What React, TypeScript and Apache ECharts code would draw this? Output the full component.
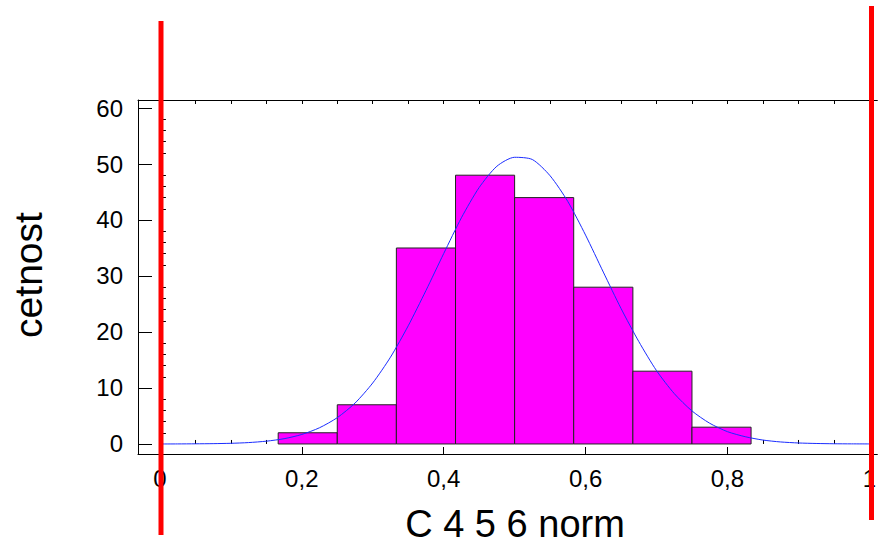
import React, { useEffect, useRef } from "react";
import * as echarts from "echarts";

const binStart = [0.1667, 0.25, 0.3333, 0.4167, 0.5, 0.5833, 0.6667, 0.75];
const binEnd = [0.25, 0.3333, 0.4167, 0.5, 0.5833, 0.6667, 0.75, 0.8333];
const counts = [2, 7, 35, 48, 44, 28, 13, 3];

const curveX = [0, 0.025, 0.05, 0.075, 0.1, 0.125, 0.15, 0.175, 0.2, 0.225, 0.25, 0.275, 0.3, 0.325, 0.35, 0.375, 0.4, 0.425, 0.45, 0.475, 0.5, 0.525, 0.55, 0.575, 0.6, 0.625, 0.65, 0.675, 0.7, 0.725, 0.75, 0.775, 0.8, 0.825, 0.85, 0.875, 0.9, 0.925, 0.95, 0.975, 1];
const curveY = [0, 0.01, 0.03, 0.06, 0.12, 0.25, 0.5, 0.94, 1.7, 2.9, 4.7, 7.3, 10.9, 15.5, 21.1, 27.4, 34.0, 40.4, 45.8, 49.6, 51.2, 50.8, 47.9, 43.3, 37.3, 30.7, 24.2, 18.3, 13.1, 9.0, 5.9, 3.7, 2.2, 1.3, 0.7, 0.36, 0.18, 0.09, 0.04, 0.02, 0.01];

const xMajor = [0, 0.2, 0.4, 0.6, 0.8, 1];
const xMinor = [0.05, 0.1, 0.15, 0.25, 0.3, 0.35, 0.45, 0.5, 0.55, 0.65, 0.7, 0.75, 0.85, 0.9, 0.95];
const yMajor = [0, 10, 20, 30, 40, 50, 60];
const yMinor = [2, 4, 6, 8, 12, 14, 16, 18, 22, 24, 26, 28, 32, 34, 36, 38, 42, 44, 46, 48, 52, 54, 56, 58];

const xTitle = "C 4 5 6 norm";
const yTitle = "cetnost";

const FONT = "'Liberation Sans', Arial, sans-serif";
const X_MIN = -0.0309;
const X_MAX = 1.0113;
const Y_MIN = -1.79;
const Y_MAX = 61.43;

export default function App() {
  const ref = useRef<HTMLDivElement>(null);
  useEffect(() => {
    if (!ref.current) return;
    const chart = echarts.init(ref.current, undefined, { renderer: "svg" });
    const lineStyle = { color: "#000", width: 1 };
    const xBase = { type: "value", min: X_MIN, max: X_MAX, splitLine: { show: false } };
    const yBase = { type: "value", min: Y_MIN, max: Y_MAX, splitLine: { show: false } };
    const option: any = {
      animation: false,
      backgroundColor: "#fff",
      grid: { left: 138, top: 100, right: 0, bottom: 92, containLabel: false },
      xAxis: [
        {
          ...xBase,
          position: "bottom",
          axisLine: { show: true, onZero: false, lineStyle },
          axisTick: { show: true, inside: true, length: 7, customValues: xMajor, lineStyle },
          axisLabel: {
            show: true,
            customValues: xMajor,
            margin: 12,
            color: "#000",
            fontSize: 24,
            fontFamily: FONT,
            formatter: (v: number) => String(v).replace(".", ","),
          },
        },
        {
          ...xBase,
          position: "bottom",
          axisLine: { show: false },
          axisTick: { show: true, inside: true, length: 4, customValues: xMinor, lineStyle },
          axisLabel: { show: false },
        },
        {
          ...xBase,
          position: "top",
          axisLine: { show: true, onZero: false, lineStyle },
          axisTick: { show: true, inside: true, length: 4, customValues: xMinor.concat(xMajor), lineStyle },
          axisLabel: { show: false },
        },
      ],
      yAxis: [
        {
          ...yBase,
          position: "left",
          axisLine: { show: true, onZero: false, lineStyle },
          axisTick: { show: true, inside: true, length: 14, customValues: yMajor, lineStyle },
          axisLabel: {
            show: true,
            customValues: yMajor,
            margin: 15,
            color: "#000",
            fontSize: 24,
            fontFamily: FONT,
          },
        },
        {
          ...yBase,
          position: "left",
          axisLine: { show: false },
          axisTick: { show: true, inside: true, length: 6, customValues: yMinor, lineStyle },
          axisLabel: { show: false },
        },
      ],
      series: [
        {
          type: "custom",
          xAxisIndex: 0,
          yAxisIndex: 0,
          data: counts.map((c, i) => [binStart[i], binEnd[i], c]),
          encode: { x: [0, 1], y: 2 },
          renderItem: (params: any, api: any) => {
            const p0 = api.coord([api.value(0), api.value(2)]);
            const p1 = api.coord([api.value(1), 0]);
            return {
              type: "rect",
              shape: { x: p0[0], y: p0[1], width: p1[0] - p0[0], height: p1[1] - p0[1] },
              style: { fill: "#ff00ff", stroke: "#222", lineWidth: 1 },
            };
          },
          z: 2,
        },
        {
          type: "line",
          xAxisIndex: 0,
          yAxisIndex: 0,
          data: curveX.map((x, i) => [x, curveY[i]]),
          smooth: 0.25,
          showSymbol: false,
          symbol: "none",
          lineStyle: { color: "#1a2cff", width: 1 },
          z: 3,
        },
      ],
      graphic: [
        {
          type: "line",
          shape: { x1: 161, y1: 21, x2: 161, y2: 535 },
          style: { stroke: "#ff0000", lineWidth: 5 },
          z: 100,
        },
        {
          type: "line",
          shape: { x1: 871.5, y1: 6, x2: 871.5, y2: 520 },
          style: { stroke: "#ff0000", lineWidth: 5 },
          z: 100,
        },
        {
          type: "text",
          x: 515,
          y: 524,
          style: {
            text: xTitle,
            fill: "#000",
            font: `38px ${FONT}`,
            textAlign: "center",
            textVerticalAlign: "middle",
          },
          z: 50,
        },
        {
          type: "text",
          x: 28,
          y: 275,
          rotation: Math.PI / 2,
          style: {
            text: yTitle,
            fill: "#000",
            font: `39px ${FONT}`,
            textAlign: "center",
            textVerticalAlign: "middle",
          },
          z: 50,
        },
      ],
    };
    chart.setOption(option);
    return () => chart.dispose();
  }, []);
  return (
    <div
      ref={ref}
      style={{ position: "fixed", left: 0, top: 0, width: 879, height: 546, background: "#fff" }}
    />
  );
}
